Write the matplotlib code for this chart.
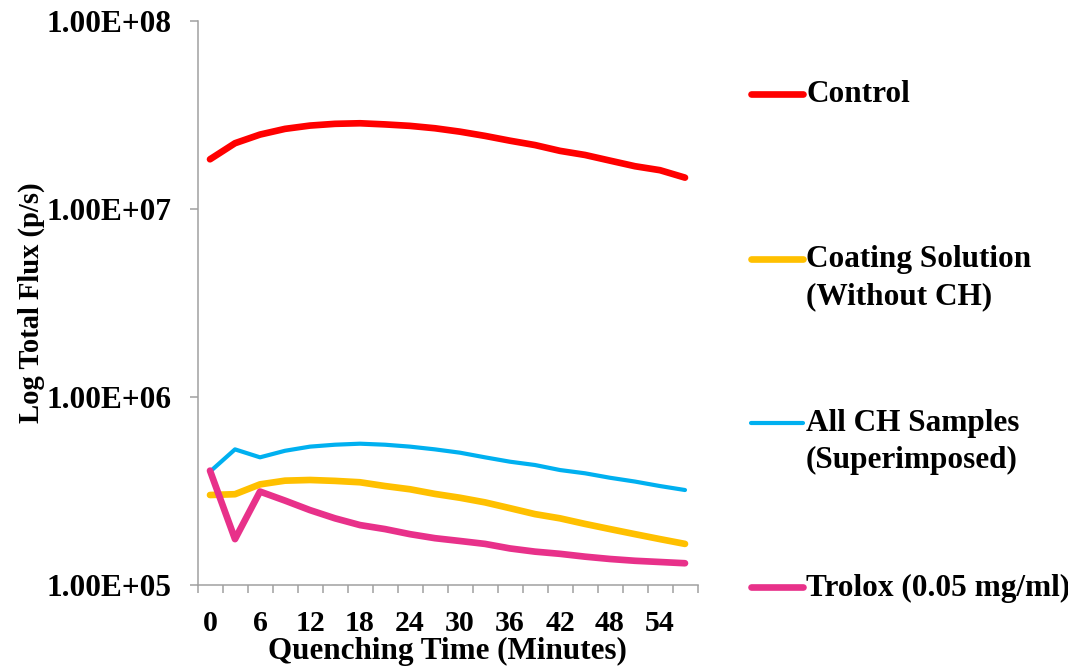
import matplotlib
matplotlib.use('Agg')
import matplotlib.pyplot as plt
import numpy as np
from matplotlib.lines import Line2D
from matplotlib.ticker import FixedLocator, FuncFormatter

plt.rcParams['font.family'] = ['Liberation Serif', 'DejaVu Serif']
plt.rcParams['font.weight'] = 'bold'

# quenching time (minutes), one reading every 3 min
minutes = np.arange(0, 60, 3)

control = [1.84e7, 2.24e7, 2.49e7, 2.67e7, 2.78e7, 2.84e7, 2.86e7, 2.82e7, 2.77e7, 2.69e7,
           2.58e7, 2.45e7, 2.31e7, 2.19e7, 2.04e7, 1.94e7, 1.81e7, 1.69e7, 1.61e7, 1.47e7]
coating = [3.02e5, 3.05e5, 3.44e5, 3.60e5, 3.63e5, 3.59e5, 3.53e5, 3.37e5, 3.24e5, 3.06e5,
           2.92e5, 2.76e5, 2.57e5, 2.39e5, 2.27e5, 2.12e5, 1.99e5, 1.87e5, 1.76e5, 1.66e5]
ch_samples = [4.02e5, 5.28e5, 4.79e5, 5.19e5, 5.46e5, 5.59e5, 5.66e5, 5.59e5, 5.46e5, 5.28e5,
              5.07e5, 4.79e5, 4.54e5, 4.36e5, 4.10e5, 3.94e5, 3.73e5, 3.56e5, 3.37e5, 3.21e5]
trolox = [4.07e5, 1.76e5, 3.15e5, 2.82e5, 2.51e5, 2.27e5, 2.09e5, 1.99e5, 1.87e5, 1.78e5,
          1.72e5, 1.66e5, 1.57e5, 1.51e5, 1.47e5, 1.42e5, 1.38e5, 1.35e5, 1.33e5, 1.31e5]

labels = ['Control', 'Coating Solution\n(Without CH)',
          'All CH Samples\n(Superimposed)', 'Trolox (0.05 mg/ml)']
colors = ['#FF0000', '#FFC000', '#00B0F0', '#E8318A']
widths = [4.8, 4.8, 3.0, 4.8]
series = [control, coating, ch_samples, trolox]

W, H = 1068, 666
fig = plt.figure(figsize=(W / 100, H / 100), dpi=100)
ax = fig.add_axes([197.5 / W, 1 - 585.3 / H, 500 / W, 564.3 / H])

for vals, c, lw in zip(series, colors, widths):
    ax.plot(minutes, vals, color=c, lw=lw, solid_capstyle='round', solid_joinstyle='round')

ax.set_yscale('log')
ax.set_ylim(1e5, 1e8)
ax.set_xlim(-1.5, 58.5)

spine_c = '#A0A0A0'
for s in ['top', 'right']:
    ax.spines[s].set_visible(False)
for s in ['left', 'bottom']:
    ax.spines[s].set_color(spine_c)
    ax.spines[s].set_linewidth(1.1)


def sci(v, pos):
    e = int(round(np.log10(v)))
    return '%.2fE+%02d' % (v / 10 ** e, e)


ax.yaxis.set_major_locator(FixedLocator([1e5, 1e6, 1e7, 1e8]))
ax.yaxis.set_minor_locator(FixedLocator([]))
ax.yaxis.set_major_formatter(FuncFormatter(sci))
ax.tick_params(axis='y', which='major', length=6, width=1.1, color=spine_c, pad=13, labelsize=22.5)

ax.xaxis.set_major_locator(FixedLocator(np.arange(0, 55, 6)))
ax.xaxis.set_minor_locator(FixedLocator(np.arange(-1.5, 59, 3)))
ax.tick_params(axis='x', which='major', length=0, pad=18, labelsize=21.5)
ax.tick_params(axis='x', which='minor', length=6, width=1.1, color=spine_c)

ax.set_xlabel('Quenching Time (Minutes)', fontsize=22.4, fontweight='bold', labelpad=0)
ax.set_ylabel('Log Total Flux (p/s)', fontsize=20.6, fontweight='bold', labelpad=1)

# legend laid out down the right side
key_y = [94, 258.5, 422.5, 587]
for lab, c, lw, yy in zip(labels, colors, widths, key_y):
    fy = 1 - yy / H
    fig.add_artist(Line2D([751 / W, 803 / W], [fy, fy], transform=fig.transFigure,
                          color=c, lw=lw, solid_capstyle='round'))
    for i, part in enumerate(lab.split('\n')):
        fig.text(806 / W, 1 - (yy + 1 + 37 * i) / H, part, fontsize=22.5, fontweight='bold',
                 va='center', ha='left')

fig.savefig('out.png', dpi=100)
